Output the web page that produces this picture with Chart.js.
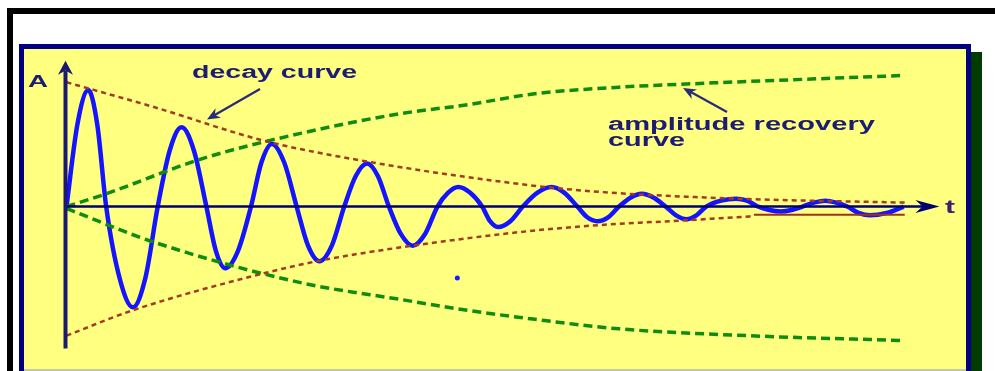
<!DOCTYPE html>
<html><head><meta charset="utf-8">
<script src="https://cdn.jsdelivr.net/npm/chart.js@4/dist/chart.umd.min.js"></script>
<style>html,body{margin:0;padding:0;background:#fff;overflow:hidden}#wrap{width:995px;height:371px;position:relative}</style>
</head><body><div id="wrap"><canvas id="c"></canvas></div>
<script>
// Damped oscillation (time t, amplitude A): crossings, flanks and extrema
const waveT = [0, 1.1, 2.2, 3.1, 4.0, 5.35, 6.7, 7.95, 9.2, 10.4, 11.6, 12.85, 14.1, 15.05, 16.0, 17.3, 18.6, 19.65, 20.7, 21.95, 23.2, 24.35, 25.5, 26.75, 28.0, 29.15, 30.3, 31.4, 32.5, 33.7, 34.9, 36.15, 37.4, 38.45, 39.5, 40.7, 41.9, 42.7, 43.5, 44.75, 46.0, 47.45, 48.9, 50.2, 51.5, 52.5, 53.5, 54.6, 55.7, 56.85, 58.0, 59.2, 60.4, 61.45, 62.5, 63.5, 64.5, 66.0, 67.5, 68.6, 69.7, 70.85, 72.0, 73.1, 74.2, 75.35, 76.5, 77.6, 78.7, 79.85, 81.0, 82.7, 84.4];
const waveA = [0, 0.84, 1.19, 0.84, 0, -0.73, -1.03, -0.73, 0, 0.57, 0.81, 0.57, 0, -0.45, -0.63, -0.45, 0, 0.45, 0.64, 0.45, 0, -0.40, -0.56, -0.40, 0, 0.31, 0.44, 0.31, 0, -0.28, -0.40, -0.28, 0, 0.14, 0.20, 0.14, 0, -0.15, -0.21, -0.15, 0, 0.14, 0.20, 0.14, 0, -0.11, -0.15, -0.11, 0, 0.09, 0.13, 0.09, 0, -0.09, -0.13, -0.09, 0, 0.06, 0.08, 0.06, 0, -0.035, -0.05, -0.035, 0, 0.04, 0.06, 0.04, 0, -0.065, -0.09, -0.065, 0];
// Decay curve (upper and lower envelope)
const decayUpT = [0, 8.7, 20.0, 30.3, 45.7, 53.7, 67.7, 84.5];
const decayUpA = [1.27, 1.02, 0.67, 0.46, 0.23, 0.15, 0.08, 0.04];
const decayLoT = [0, 6.7, 20.0, 25.7, 34.9, 46.7, 53.7, 62.5, 69.0];
const decayLoA = [-1.32, -1.06, -0.68, -0.55, -0.40, -0.25, -0.19, -0.14, -0.10];
const baseLineT = [69.3, 84.5];
const baseLineA = [-0.085, -0.085];
// Amplitude recovery curve (upper and lower)
const recUpT = [0, 3.7, 13.7, 23.7, 33.7, 40.4, 47.0, 55.7, 62.0, 84.5];
const recUpA = [0, 0.12, 0.49, 0.75, 0.95, 1.04, 1.15, 1.22, 1.25, 1.34];
const recLoT = [0, 8.7, 23.7, 33.7, 40.4, 47.0, 55.7, 68.7, 84.5];
const recLoA = [-0.02, -0.36, -0.78, -0.95, -1.06, -1.15, -1.25, -1.32, -1.37];
// stray dot
const dotT = [39.4];
const dotA = [-0.73];
// labels
const labelDecay = 'decay curve';
const labelRecovery1 = 'amplitude recovery';
const labelRecovery2 = 'curve';
const labelY = 'A';
const labelX = 't';

const pts = (ts, as) => ts.map((t, i) => ({x: t, y: as[i]}));

const NAVY = '#000080';
const TEXT = '#1c1c74';

function arrowHead(ctx, x, y, ang, len, half, color) {
  ctx.save();
  ctx.translate(x, y);
  ctx.rotate(ang);
  ctx.fillStyle = color;
  ctx.beginPath();
  ctx.moveTo(0, 0);
  ctx.lineTo(-len, -half);
  ctx.lineTo(-len * 0.7, 0);
  ctx.lineTo(-len, half);
  ctx.closePath();
  ctx.fill();
  ctx.restore();
}
function stretched(ctx, str, x, y, w, font, color) {
  ctx.save();
  ctx.font = font;
  ctx.fillStyle = color;
  ctx.textBaseline = 'alphabetic';
  const m = ctx.measureText(str).width;
  ctx.translate(x, y);
  ctx.scale(w / m, 1);
  ctx.fillText(str, 0, 0);
  ctx.restore();
}

const decor = {
  id: 'decor',
  beforeDraw(chart) {
    const ctx = chart.ctx;
    ctx.save();
    ctx.fillStyle = '#ffffff';
    ctx.fillRect(0, 0, 995, 371);
    ctx.fillStyle = '#000000';
    ctx.fillRect(7, 8, 988, 6);
    ctx.fillRect(7, 8, 6, 363);
    ctx.fillStyle = '#003c00';
    ctx.fillRect(971, 52, 11, 319);
    ctx.fillStyle = NAVY;
    ctx.fillRect(19, 44, 952, 327);
    ctx.fillStyle = '#ffff80';
    ctx.fillRect(24, 49, 942, 320);
    ctx.fillStyle = '#c8c8a8';
    ctx.fillRect(24, 369, 942, 2);
    ctx.restore();
  },
  afterDatasetsDraw(chart) {
    const ctx = chart.ctx, xs = chart.scales.x, ys = chart.scales.y;
    const x0 = xs.getPixelForValue(0), y0 = ys.getPixelForValue(0);
    ctx.save();
    ctx.strokeStyle = '#000070';
    ctx.lineWidth = 2.5;
    const xTip = xs.getPixelForValue(88.0);
    ctx.beginPath(); ctx.moveTo(x0, y0); ctx.lineTo(xTip - 15, y0); ctx.stroke();
    arrowHead(ctx, xTip, y0, 0, 24, 6.5, '#000070');
    ctx.strokeStyle = '#1a1a70';
    ctx.lineWidth = 4;
    const yTop = ys.getPixelForValue(1.49), yBot = ys.getPixelForValue(-1.45);
    ctx.beginPath(); ctx.moveTo(x0 - 1, yBot); ctx.lineTo(x0 - 1, yTop + 10); ctx.stroke();
    arrowHead(ctx, x0 - 1, yTop, -Math.PI / 2, 14, 7.5, '#1a1a70');
    ctx.restore();
  },
  afterDraw(chart) {
    const ctx = chart.ctx;
    ctx.save();
    ctx.strokeStyle = '#2a2a7a';
    ctx.lineWidth = 2.2;
    ctx.beginPath(); ctx.moveTo(260, 89); ctx.lineTo(213, 116); ctx.stroke();
    arrowHead(ctx, 207, 119.5, Math.atan2(30.5, -53), 13, 5.5, '#2a2a7a');
    ctx.beginPath(); ctx.moveTo(727, 112); ctx.lineTo(689, 91); ctx.stroke();
    arrowHead(ctx, 683, 88, Math.atan2(-24, -44), 13, 5.5, '#2a2a7a');
    ctx.restore();
    const f = 'bold 18px "Liberation Sans", Arial, sans-serif';
    stretched(ctx, labelDecay, 192, 78, 165, f, TEXT);
    stretched(ctx, labelRecovery1, 608, 130, 267, f, TEXT);
    stretched(ctx, labelRecovery2, 608, 146, 77, f, TEXT);
    stretched(ctx, labelY, 28, 87, 20, 'bold 17px "Liberation Sans", Arial, sans-serif', TEXT);
    stretched(ctx, labelX, 945, 213, 10, 'bold 18px "Liberation Sans", Arial, sans-serif', '#3a2070');
  }
};

const red = '#a33a22', green = '#0f8c0f';
new Chart(document.getElementById('c'), {
  type: 'line',
  data: {
    datasets: [
      {data: pts(decayUpT, decayUpA), borderColor: red, borderWidth: 2.5, borderDash: [5, 4], cubicInterpolationMode: 'monotone', pointRadius: 0},
      {data: pts(decayLoT, decayLoA), borderColor: red, borderWidth: 2.5, borderDash: [5, 4], cubicInterpolationMode: 'monotone', pointRadius: 0},
      {data: pts(baseLineT, baseLineA), borderColor: '#a0301c', borderWidth: 2, pointRadius: 0},
      {data: pts(recUpT, recUpA), borderColor: green, borderWidth: 3.5, borderDash: [9, 5], cubicInterpolationMode: 'monotone', pointRadius: 0},
      {data: pts(recLoT, recLoA), borderColor: green, borderWidth: 3.5, borderDash: [9, 5], cubicInterpolationMode: 'monotone', pointRadius: 0},
      {data: pts(dotT, dotA), showLine: false, pointRadius: 2.5, pointBackgroundColor: '#1a1aff', pointBorderWidth: 0, borderColor: '#1a1aff'},
      {data: pts(waveT, waveA), borderColor: '#1414ff', borderWidth: 4.5, cubicInterpolationMode: 'monotone', pointRadius: 0}
    ]
  },
  options: {
    responsive: true,
    maintainAspectRatio: false,
    animation: false,
    layout: {padding: 0},
    plugins: {legend: {display: false}, tooltip: {enabled: false}},
    scales: {
      x: {type: 'linear', min: -6.3, max: 93.2, display: false},
      y: {type: 'linear', min: -1.64, max: 2.07, display: false}
    }
  },
  plugins: [decor]
});
</script>
</body></html>
